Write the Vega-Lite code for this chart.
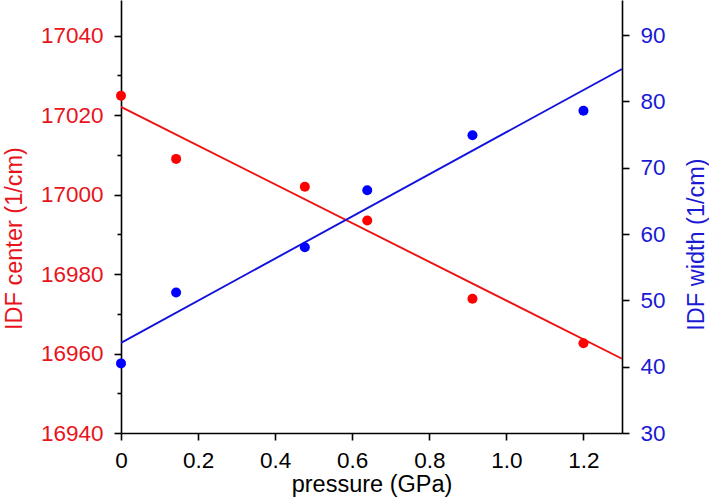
{
  "$schema": "https://vega.github.io/schema/vega-lite/v6.json",
  "width": 501,
  "height": 433,
  "autosize": {"type": "none"},
  "padding": {"left": 121, "top": 0, "right": 87, "bottom": 69},
  "config": {
    "view": {"stroke": null},
    "font": "Liberation Sans",
    "axis": {
      "grid": false,
      "domainColor": "black",
      "domainWidth": 1.6,
      "tickColor": "black",
      "tickWidth": 1.6,
      "labelFont": "Liberation Sans",
      "titleFont": "Liberation Sans",
      "labelFontSize": 22.5,
      "titleFontSize": 23.5,
      "titleFontWeight": "normal",
      "labelOverlap": false,
      "labelFlush": false
    }
  },
  "datasets": {
    "center": [
      {"pressure": 0.0, "center": 17024.9},
      {"pressure": 0.143, "center": 17009.0},
      {"pressure": 0.477, "center": 17002.0},
      {"pressure": 0.639, "center": 16993.5},
      {"pressure": 0.912, "center": 16973.8},
      {"pressure": 1.2, "center": 16962.6}
    ],
    "centerFit": [
      {"pressure": 0.0, "center": 17022.1},
      {"pressure": 1.3, "center": 16958.7}
    ],
    "width": [
      {"pressure": 0.0, "width": 40.5},
      {"pressure": 0.143, "width": 51.2},
      {"pressure": 0.477, "width": 58.0},
      {"pressure": 0.639, "width": 66.6},
      {"pressure": 0.912, "width": 74.9},
      {"pressure": 1.2, "width": 78.6}
    ],
    "widthFit": [
      {"pressure": 0.0, "width": 43.6},
      {"pressure": 1.3, "width": 84.9}
    ]
  },
  "layer": [
    {
      "layer": [
        {
          "data": {"name": "centerFit"},
          "mark": {"type": "line", "color": "#ee1111", "strokeWidth": 1.9, "clip": true},
          "encoding": {
            "x": {
              "field": "pressure", "type": "quantitative",
              "scale": {"domain": [0, 1.3], "nice": false, "zero": false},
              "axis": {
                "title": "pressure (GPa)",
                "values": [0, 0.1, 0.2, 0.3, 0.4, 0.5, 0.6, 0.7, 0.8, 0.9, 1.0, 1.1, 1.2, 1.3],
                "labelExpr": "round(datum.value*10)%2===0 ? (datum.value===0 ? '0' : format(datum.value, '.1f')) : ''",
                "tickSize": {"condition": {"test": "round(datum.value*10)%2===0", "value": 7}, "value": 4},
                "labelPadding": 9,
                "titlePadding": 1,
                "labelColor": "black",
                "titleColor": "black"
              }
            },
            "y": {
              "field": "center", "type": "quantitative",
              "scale": {"domain": [16940, 17049], "nice": false, "zero": false},
              "axis": {
                "orient": "left",
                "title": "IDF center (1/cm)",
                "values": [16940, 16950, 16960, 16970, 16980, 16990, 17000, 17010, 17020, 17030, 17040],
                "labelExpr": "datum.value % 20 === 0 ? datum.label : ''",
                "format": "d",
                "tickSize": {"condition": {"test": "datum.value % 20 === 0", "value": 7}, "value": 4},
                "labelPadding": 11,
                "titlePadding": 14,
                "titleY": 238,
                "labelColor": "#e8141c",
                "titleColor": "#e8141c"
              }
            }
          }
        },
        {
          "data": {"name": "center"},
          "mark": {"type": "point", "filled": true, "opacity": 1, "size": 100, "color": "#ff0000"},
          "encoding": {
            "x": {"field": "pressure", "type": "quantitative"},
            "y": {"field": "center", "type": "quantitative"}
          }
        }
      ]
    },
    {
      "layer": [
        {
          "data": {"name": "widthFit"},
          "mark": {"type": "line", "color": "#1111dd", "strokeWidth": 1.9, "clip": true},
          "encoding": {
            "x": {"field": "pressure", "type": "quantitative"},
            "y": {
              "field": "width", "type": "quantitative",
              "scale": {"domain": [30, 95.3], "nice": false, "zero": false},
              "axis": {
                "orient": "right",
                "title": "IDF width (1/cm)",
                "values": [30, 35, 40, 45, 50, 55, 60, 65, 70, 75, 80, 85, 90, 95],
                "labelExpr": "datum.value % 10 === 0 ? datum.label : ''",
                "tickSize": {"condition": {"test": "datum.value % 10 === 0", "value": 7}, "value": 4},
                "labelPadding": 11,
                "titlePadding": 19,
                "titleAngle": 270,
                "titleBaseline": "top",
                "titleY": 244,
                "labelColor": "#1a1ad4",
                "titleColor": "#1a1ad4"
              }
            }
          }
        },
        {
          "data": {"name": "width"},
          "mark": {"type": "point", "filled": true, "opacity": 1, "size": 100, "color": "#0000ff"},
          "encoding": {
            "x": {"field": "pressure", "type": "quantitative"},
            "y": {"field": "width", "type": "quantitative"}
          }
        }
      ]
    }
  ],
  "resolve": {"scale": {"y": "independent"}}
}
